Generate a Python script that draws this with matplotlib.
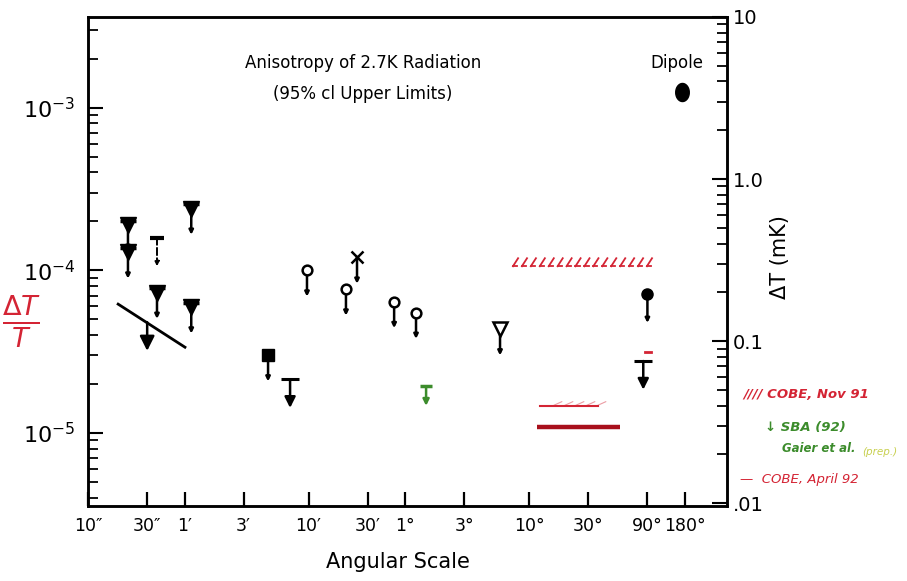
import numpy as np
import matplotlib.pyplot as plt
from matplotlib.ticker import NullFormatter, NullLocator

# angular scale in arcsec, dT/T (95% cl upper limits)
tick_arcsec = [10, 30, 60, 180, 600, 1800, 3600, 10800, 36000, 108000, 324000, 648000]
tick_labels = ['10″', '30″', '1′', '3′', '10′', '30′', '1°', '3°', '10°', '30°', '90°', '180°']

tri_x = [21, 21, 36, 68, 68]
tri_y = [1.91e-4, 1.29e-4, 7.3e-5, 2.4e-4, 5.93e-5]

bar_dash_x = [36]
bar_dash_y = [1.59e-4]

slope_x = [17.5, 60.5]
slope_y = [6.2e-5, 3.37e-5]
slope_arrow_x = 30
slope_arrow_y = 4.8e-5

sq_x = [283]
sq_y = [3.01e-5]

tbar_x = [426, 300000]
tbar_y = [2.14e-5, 2.77e-5]

circ_x = [583, 1202, 2940, 4414]
circ_y = [1.0e-4, 7.64e-5, 6.4e-5, 5.5e-5]

cross_x = [1476]
cross_y = [1.2e-4]

otri_x = [21000]
otri_y = [4.35e-5]

fcirc_x = [324000]
fcirc_y = [7.13e-5]

sba_x = [5321]
sba_y = [1.94e-5]

dipole_x = [617000]
dipole_y = [1.24e-3]

cobe91_x = [26700, 353000]
cobe91_y = 1.06e-4
cobe92_thin_x = [44200, 130000]
cobe92_thin_y = 1.47e-5
cobe92_x = [41800, 195000]
cobe92_y = 1.09e-5

T_cmb_mK = 2700.0
ylo, yhi = 3.56e-6, 3.61e-3

RED = '#d42434'
DARKRED = '#a8101c'
GREEN = '#3c8c2c'

fig = plt.figure(figsize=(9.07, 5.81), dpi=100)
ax = fig.add_axes([88/907, 1-506/581, (727-88)/907, (506-17)/581])
ax.set_xscale('log')
ax.set_yscale('log')
ax.set_xlim(10, 1.42e6)
ax.set_ylim(ylo, yhi)


def down_arrow(x, y, fac=1.45, color='k', head=6, ls='-', lw=1.8):
    ax.annotate('', xy=(x, y / fac), xytext=(x, y),
                arrowprops=dict(arrowstyle='-|>', color=color, lw=lw, ls=ls,
                                mutation_scale=head, shrinkA=0, shrinkB=0),
                zorder=3)


for x, y in zip(tri_x, tri_y):
    down_arrow(x, y)
ax.plot(tri_x, tri_y, 'v', color='k', ms=11, zorder=4)
ax.plot(tri_x, np.array(tri_y) * 1.06, '_', color='k', ms=11, mew=2.5, zorder=4)

for x, y in zip(bar_dash_x, bar_dash_y):
    down_arrow(x, y, fac=1.5, ls='--', lw=1.4)
ax.plot(bar_dash_x, bar_dash_y, '_', color='k', ms=10, mew=3, zorder=4)

ax.plot(slope_x, slope_y, '-', color='k', lw=2)
down_arrow(slope_arrow_x, slope_arrow_y, fac=1.5, head=22, lw=1.8)

for x, y in zip(sq_x, sq_y):
    down_arrow(x, y)
ax.plot(sq_x, sq_y, 's', color='k', ms=9, zorder=4)

for x, y in zip(tbar_x, tbar_y):
    down_arrow(x, y, fac=1.5, head=16)
ax.plot(tbar_x, tbar_y, '_', color='k', ms=13, mew=2.2, zorder=4)

for x, y in zip(circ_x, circ_y):
    down_arrow(x, y, fac=1.45)
ax.plot(circ_x, circ_y, 'o', mfc='white', mec='k', mew=1.8, ms=7, zorder=4)

for x, y in zip(cross_x, cross_y):
    down_arrow(x, y, fac=1.45)
ax.plot(cross_x, cross_y, 'x', color='k', mew=1.8, ms=8, zorder=4)

for x, y in zip(otri_x, otri_y):
    down_arrow(x, y, fac=1.45)
ax.plot(otri_x, otri_y, 'v', mfc='white', mec='k', mew=1.8, ms=10, zorder=4)

for x, y in zip(fcirc_x, fcirc_y):
    down_arrow(x, y, fac=1.5)
ax.plot(fcirc_x, fcirc_y, 'o', color='k', ms=8, zorder=4)

for x, y in zip(sba_x, sba_y):
    down_arrow(x, y, fac=1.32, color=GREEN, head=9)
ax.plot(sba_x, sba_y, '_', color=GREEN, ms=9, mew=2.5, zorder=4)

t = np.linspace(0, 2 * np.pi, 40)
ellipse = list(zip(0.75 * np.cos(t), np.sin(t)))
ax.plot(dipole_x, dipole_y, marker=ellipse, color='k', ms=13, ls='none', zorder=4)

# COBE Nov 91 hatched limit
hx = np.geomspace(cobe91_x[0], cobe91_x[1] / 1.1, 16)
for x in hx:
    ax.plot([x, x * 1.1], [cobe91_y, cobe91_y * 1.12], color=RED, lw=1.3)
    ax.plot([x, x * 1.08], [cobe91_y, cobe91_y], color=RED, lw=1.3)

# COBE April 92
ax.plot(cobe92_thin_x, [cobe92_thin_y] * 2, color=RED, lw=1.5)
for x in np.geomspace(cobe92_thin_x[0] * 1.3, cobe92_thin_x[1], 5):
    ax.plot([x, x * 1.15], [cobe92_thin_y * 1.01, cobe92_thin_y * 1.06],
            color=RED, lw=0.8, alpha=0.45)
ax.plot(cobe92_x, [cobe92_y] * 2, color=DARKRED, lw=3.2, solid_capstyle='butt')
ax.plot([fcirc_x[0] * 0.96, fcirc_x[0] * 1.06], [tbar_y[1] * 1.14] * 2, color=RED, lw=2)

# axes styling
for s in ax.spines.values():
    s.set_linewidth(1.8)
ax.set_xticks(tick_arcsec)
ax.set_xticklabels(tick_labels, fontsize=12.5)
ax.xaxis.set_minor_locator(NullLocator())
ax.set_yticks([1e-5, 1e-4, 1e-3])
ax.set_yticklabels([r'$10^{-5}$', r'$10^{-4}$', r'$10^{-3}$'], fontsize=16)
ax.yaxis.set_minor_formatter(NullFormatter())
ax.tick_params(axis='x', direction='in', length=10, width=1.6, pad=8, top=False)
ax.tick_params(axis='y', which='major', direction='in', length=11, width=1.5, pad=9)
ax.tick_params(axis='y', which='minor', direction='in', length=7, width=1.3)

ax2 = ax.twinx()
ax2.set_yscale('log')
ax2.set_ylim(ylo * T_cmb_mK, yhi * T_cmb_mK)
ax2.set_yticks([0.01, 0.1, 1, 10])
ax2.set_yticklabels(['.01', '0.1', '1.0', '10'], fontsize=14)
ax2.yaxis.set_minor_formatter(NullFormatter())
ax2.tick_params(axis='y', which='major', direction='in', length=11, width=1.5, pad=4)
ax2.tick_params(axis='y', which='minor', direction='in', length=7, width=1.3)
for s in ax2.spines.values():
    s.set_linewidth(1.8)

ax.text(0.43, 0.905, 'Anisotropy of 2.7K Radiation', transform=ax.transAxes,
        ha='center', va='center', fontsize=12)
ax.text(0.43, 0.843, '(95% cl Upper Limits)', transform=ax.transAxes,
        ha='center', va='center', fontsize=12)
ax.text(0.921, 0.905, 'Dipole', transform=ax.transAxes, ha='center', va='center', fontsize=12)

fig.text(398/907, 1-562/581, 'Angular Scale', ha='center', va='center', fontsize=15)
fig.text(780/907, 1-257/581, 'ΔT (mK)', ha='center', va='center', rotation=90, fontsize=15)
fig.text(22/907, 1-322/581, r'$\frac{\Delta T}{T}$', ha='center', va='center',
         fontsize=28, color=RED)

# hand-written notes
fig.text(743/907, 1-395/581, '//// COBE, Nov 91', color=RED, fontsize=9.5,
         style='italic', weight='bold', va='center')
fig.text(765/907, 1-427/581, '↓ SBA (92)', color=GREEN, fontsize=9.5,
         style='italic', weight='bold', va='center')
fig.text(782/907, 1-448/581, 'Gaier et al.', color=GREEN, fontsize=8.5,
         style='italic', weight='bold', va='center')
fig.text(862/907, 1-452/581, '(prep.)', color='#c8d050', fontsize=7.5,
         style='italic', va='center')
fig.text(740/907, 1-480/581, '—  COBE, April 92', color=RED, fontsize=9.5,
         style='italic', va='center')

fig.savefig('out.png', dpi=100)
